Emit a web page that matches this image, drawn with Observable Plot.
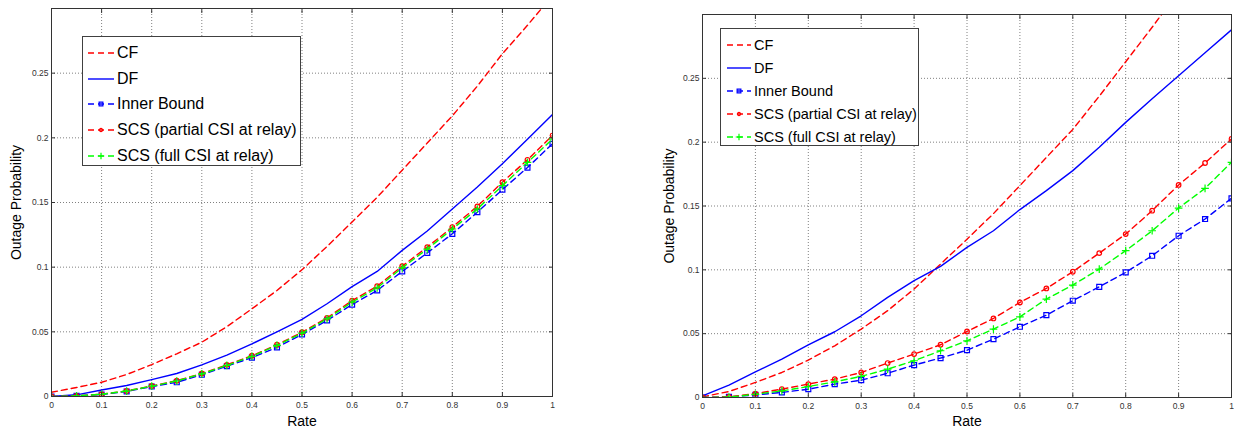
<!DOCTYPE html>
<html><head><meta charset="utf-8">
<script src="https://cdn.jsdelivr.net/npm/d3@7"></script>
<script src="https://cdn.jsdelivr.net/npm/@observablehq/plot@0.6"></script>
<style>
body{margin:0;background:#fff;}
#wrap{position:relative;width:1234px;height:428px;overflow:hidden;font-family:"Liberation Sans",Arial,sans-serif;}
.panel{position:absolute;top:0;}
.legend{position:absolute;background:#fff;border:1px solid #404040;box-sizing:border-box;}
.legend .row{position:absolute;left:0;display:flex;align-items:center;white-space:nowrap;color:#000;}
</style></head>
<body><div id="wrap"></div>
<script>
// ---- data ----
const rates = [0,0.05,0.1,0.15,0.2,0.25,0.3,0.35,0.4,0.45,0.5,0.55,0.6,0.65,0.7,0.75,0.8,0.85,0.9,0.95,1];
const xTicks = [0,0.1,0.2,0.3,0.4,0.5,0.6,0.7,0.8,0.9,1];
const yTicks = [0,0.05,0.1,0.15,0.2,0.25];
const seriesNames = ["CF","DF","Inner Bound","SCS (partial CSI at relay)","SCS (full CSI at relay)"];

// left panel
const cfL = [0.0033,0.007,0.011,0.017,0.0247,0.033,0.042,0.054,0.0678,0.082,0.098,0.116,0.135,0.154,0.175,0.196,0.217,0.24,0.265,0.287,0.31];
const dfL = [0,0.0013,0.005,0.0085,0.013,0.0178,0.0245,0.032,0.0407,0.05,0.0597,0.0717,0.085,0.0967,0.113,0.128,0.145,0.162,0.18,0.199,0.218];
const ibL = [0,0.0005,0.0015,0.0039,0.0077,0.011,0.0168,0.0234,0.030,0.038,0.048,0.0588,0.0711,0.082,0.0967,0.111,0.1258,0.1425,0.160,0.177,0.1954];
const spL = [0,0.0005,0.0018,0.0043,0.0082,0.0122,0.0178,0.0245,0.0315,0.040,0.0497,0.0608,0.0742,0.0853,0.1008,0.1155,0.131,0.147,0.1657,0.183,0.2018];
const sfL = [0,0.0005,0.0017,0.0042,0.008,0.012,0.0175,0.024,0.031,0.0395,0.049,0.06,0.073,0.084,0.0995,0.114,0.1295,0.145,0.163,0.181,0.199];

// right panel
const cfR = [0.0005,0.0047,0.0118,0.0196,0.0293,0.0405,0.0536,0.068,0.085,0.1045,0.124,0.144,0.166,0.188,0.21,0.236,0.263,0.29,0.318,null,null];
const dfR = [0.0013,0.0097,0.020,0.030,0.0413,0.0515,0.064,0.0784,0.0915,0.1027,0.1176,0.1306,0.1472,0.162,0.1777,0.196,0.2155,0.234,0.252,0.27,0.288];
const ibR = [0,0.0005,0.002,0.004,0.0065,0.0105,0.0136,0.019,0.0254,0.0309,0.0371,0.0457,0.0554,0.0645,0.0758,0.0867,0.098,0.111,0.1267,0.1398,0.156];
const spR = [0,0.0005,0.003,0.0066,0.0105,0.0144,0.0196,0.027,0.034,0.0413,0.0517,0.0619,0.0745,0.0854,0.0985,0.1131,0.128,0.1463,0.1665,0.1837,0.2025];
const sfR = [0,0.0003,0.0025,0.0052,0.0086,0.0123,0.0165,0.0222,0.0288,0.0366,0.0444,0.0536,0.0632,0.0771,0.0881,0.1006,0.115,0.1306,0.1484,0.1638,0.1842];

// ---- styles ----
const styles = [
  {color:"#ff0000", dash:"6,4", symbol:null, r:0},
  {color:"#0000ff", dash:null, symbol:null, r:0},
  {color:"#0000ff", dash:"6,4", symbol:"square", r:2.8},
  {color:"#ff0000", dash:"6,4", symbol:"circle", r:2.3},
  {color:"#00ff00", dash:"6,4", symbol:"plus", r:2.6}
];

const fmt = d => String(+d.toFixed(2));

function makePanel(valuesList, cfg) {
  const marks = [
    Plot.gridX(xTicks, {stroke:"#808080", strokeOpacity:1, strokeDasharray:"1,2"}),
    Plot.gridY(yTicks, {stroke:"#808080", strokeOpacity:1, strokeDasharray:"1,2"}),
  ];
  valuesList.forEach((vals, k) => {
    const st = styles[k];
    const rows = rates.map((r, i) => ({rate: r, v: vals[i]}));
    marks.push(Plot.line(rows, {x:"rate", y:"v", stroke: st.color, strokeWidth: 1.4,
      strokeDasharray: st.dash ?? undefined, clip: true, defined: d => d.v != null}));
    if (st.symbol) {
      marks.push(Plot.dot(rows.filter(d => d.v != null), {x:"rate", y:"v", symbol: st.symbol, r: st.r,
        stroke: st.color, fill: "none", strokeWidth: 1.2, clip: true}));
    }
  });
  marks.push(
    Plot.frame({stroke:"#333", strokeWidth:1}),
    Plot.axisX(xTicks, {anchor:"bottom", tickSize:0, tickPadding:5, tickFormat: fmt, fontSize: cfg.tickFont, fill:"#333", label:null}),
    Plot.axisY(yTicks, {anchor:"left", tickSize:0, tickPadding:3, tickFormat: fmt, fontSize: cfg.tickFont, fill:"#333", label:null}),
    Plot.axisX(xTicks, {anchor:"bottom", tickSize:-4, text:null, stroke:"#333", label:null}),
    Plot.axisX(xTicks, {anchor:"top", tickSize:-4, text:null, stroke:"#333", label:null}),
    Plot.axisY(yTicks, {anchor:"left", tickSize:-4, text:null, stroke:"#333", label:null}),
    Plot.axisY(yTicks, {anchor:"right", tickSize:-4, text:null, stroke:"#333", label:null}),
    Plot.axisX([], {anchor:"bottom", tickSize:0, text:null, label:"Rate", labelAnchor:"center", labelArrow:"none", labelOffset: cfg.xLabelOffset, fontSize:14, fill:"#000"}),
    Plot.axisY([], {anchor:"left", tickSize:0, text:null, label:"Outage Probability", labelAnchor:"center", labelArrow:"none", labelOffset: cfg.yLabelOffset, fontSize:14, fill:"#000"})
  );
  const svg = Plot.plot({
    width: cfg.width, height: 428,
    marginLeft: cfg.ml, marginRight: cfg.mr, marginTop: cfg.mt, marginBottom: cfg.mb,
    x: {domain:[0,1]}, y: {domain:[0,0.3]},
    style: {fontFamily: '"Liberation Sans", Arial, sans-serif', background:"transparent", overflow:"visible"},
    marks
  });
  const div = document.createElement("div");
  div.className = "panel";
  div.style.left = cfg.left + "px";
  div.appendChild(svg);
  document.getElementById("wrap").appendChild(div);

  // legend overlay
  const lg = document.createElement("div");
  lg.className = "legend";
  Object.assign(lg.style, {left: cfg.lg.x + "px", top: cfg.lg.y + "px", width: cfg.lg.w + "px", height: cfg.lg.h + "px"});
  seriesNames.forEach((name, k) => {
    const st = styles[k];
    const row = document.createElement("div");
    row.className = "row";
    const rh = 20;
    row.style.top = (cfg.lg.first + k * cfg.lg.step - rh / 2) + "px";
    row.style.height = rh + "px";
    row.style.fontSize = cfg.lg.font + "px";
    const sw = d3.create("svg").attr("width", cfg.lg.sx + cfg.lg.sw + 3).attr("height", rh);
    sw.append("line").attr("x1", cfg.lg.sx).attr("x2", cfg.lg.sx + cfg.lg.sw).attr("y1", rh/2).attr("y2", rh/2)
      .attr("stroke", st.color).attr("stroke-width", 1.4).attr("stroke-dasharray", st.dash);
    if (st.symbol) {
      const sym = {square: d3.symbolSquare, circle: d3.symbolCircle, plus: d3.symbolPlus}[st.symbol];
      const size = st.symbol === "square" ? 14 : st.symbol === "circle" ? 8 : 16;
      sw.append("path").attr("d", d3.symbol(sym, size)()).attr("transform", `translate(${cfg.lg.sx + cfg.lg.sw/2},${rh/2})`)
        .attr("fill", "none").attr("stroke", st.color).attr("stroke-width", 1.2);
    }
    row.appendChild(sw.node());
    const t = document.createElement("span");
    t.textContent = name;
    row.appendChild(t);
    lg.appendChild(row);
  });
  document.getElementById("wrap").appendChild(lg);
}

makePanel([cfL, dfL, ibL, spL, sfL], {
  left: 0, width: 600, ml: 51, mr: 48, mt: 8, mb: 32, tickFont: 8.5,
  xLabelOffset: 29, yLabelOffset: 40,
  lg: {x: 82, y: 36, w: 219, h: 130, first: 16, step: 25.7, font: 16, sx: 5, sw: 26}
});
makePanel([cfR, dfR, ibR, spR, sfR], {
  left: 620, width: 614, ml: 82, mr: 3, mt: 14, mb: 31, tickFont: 8.5,
  xLabelOffset: 28, yLabelOffset: 38,
  lg: {x: 720, y: 28, w: 199, h: 118, first: 15.7, step: 23, font: 14.5, sx: 6, sw: 24}
});
</script>
</body></html>
